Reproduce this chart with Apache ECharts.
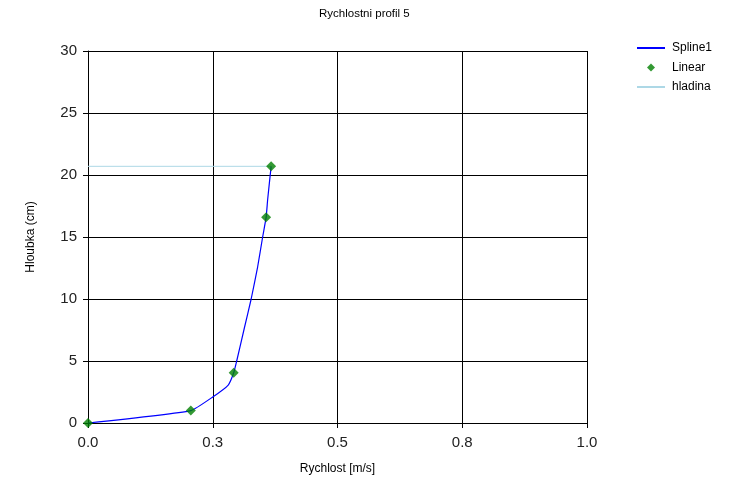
<!DOCTYPE html>
<html>
<head>
<meta charset="utf-8">
<script src="https://cdn.jsdelivr.net/npm/echarts@6/dist/echarts.min.js"></script>
<style>
    html, body { margin: 0; padding: 0; background: #fff; }
    #chart { width: 735px; height: 487px; }
</style>
</head>
<body>
<div id="chart"></div>
<script>
// Measured points (Linear series)
const rychlost = [0, 0.206, 0.292, 0.357, 0.367];   // m/s
const hloubka = [0, 1.0, 4.05, 16.6, 20.7];         // cm

// Spline1 curve
const splineX = [0, 0.206, 0.25, 0.281, 0.292, 0.298, 0.313, 0.327, 0.340, 0.350, 0.357, 0.360, 0.367];
const splineY = [0, 1.0, 2.1, 3.06, 4.05, 5.0, 7.6, 10.0, 12.6, 15.0, 16.6, 18.0, 20.7];

// water level line
const hladinaX = [0, 0.367];
const hladinaY = [20.7, 20.7];

const xTickLabels = ['0.0', '0.3', '0.5', '0.8', '1.0'];

const pairs = (xs, ys) => xs.map((x, i) => [x, ys[i]]);

function loadChart() {
    const chart = echarts.init(document.getElementById('chart'));
    const font = 'Liberation Sans, Arial, sans-serif';

    chart.setOption({
        animation: false,
        textStyle: { fontFamily: font },
        title: {
            text: 'Rychlostni profil 5',
            left: 319,
            top: 8,
            padding: 0,
            textStyle: { fontSize: 11.5, fontWeight: 'normal', color: '#000' }
        },
        legend: {
            orient: 'vertical',
            left: 637,
            top: 42,
            padding: 0,
            itemWidth: 28,
            itemHeight: 8,
            itemGap: 7.5,
            textStyle: { fontSize: 12, color: '#000', padding: [0, 0, 0, 2] },
            data: [
                { name: 'Spline1', icon: 'path://M0,0L28,0L28,2L0,2Z' },
                { name: 'Linear', icon: 'path://M0,-1L1,0L0,1L-1,0Z' },
                { name: 'hladina', icon: 'path://M0,0L28,0L28,2L0,2Z' }
            ]
        },
        grid: { left: 88, right: 148, top: 51, bottom: 64 },
        xAxis: {
            type: 'value',
            min: 0,
            max: 1,
            interval: 0.25,
            name: 'Rychlost [m/s]',
            nameLocation: 'middle',
            nameGap: 40,
            nameTextStyle: { fontSize: 12, color: '#000' },
            axisLine: { onZero: false, lineStyle: { color: '#000' } },
            axisTick: { length: 5, lineStyle: { color: '#000' } },
            axisLabel: {
                fontSize: 15,
                color: '#222',
                margin: 12,
                formatter: (v) => xTickLabels[Math.round(v / 0.25)]
            },
            splitLine: { lineStyle: { color: '#000', width: 1 } }
        },
        yAxis: {
            type: 'value',
            min: 0,
            max: 30,
            interval: 5,
            name: 'Hloubka (cm)',
            nameLocation: 'middle',
            nameGap: 51,
            nameTextStyle: { fontSize: 12, color: '#000' },
            axisLine: { show: true, onZero: false, lineStyle: { color: '#000' } },
            axisTick: { show: true, length: 5, lineStyle: { color: '#000' } },
            axisLabel: { fontSize: 15, color: '#222', margin: 11 },
            splitLine: { lineStyle: { color: '#000', width: 1 } }
        },
        series: [
            {
                name: 'Spline1',
                type: 'line',
                data: pairs(splineX, splineY),
                smooth: 0.15,
                showSymbol: false,
                symbol: 'none',
                lineStyle: { color: '#0000ff', width: 1.2 },
                itemStyle: { color: '#0000ff' },
                z: 3
            },
            {
                name: 'Linear',
                type: 'scatter',
                data: pairs(rychlost, hloubka),
                symbol: 'diamond',
                symbolSize: 10,
                itemStyle: { color: '#008000' },
                z: 4
            },
            {
                name: 'hladina',
                type: 'line',
                data: pairs(hladinaX, hladinaY),
                symbol: 'none',
                lineStyle: { color: '#add8e6', width: 1 },
                itemStyle: { color: '#add8e6' },
                z: 2
            }
        ]
    });

    window.addEventListener('resize', () => chart.resize());
}

document.addEventListener('DOMContentLoaded', loadChart);
</script>
</body>
</html>
